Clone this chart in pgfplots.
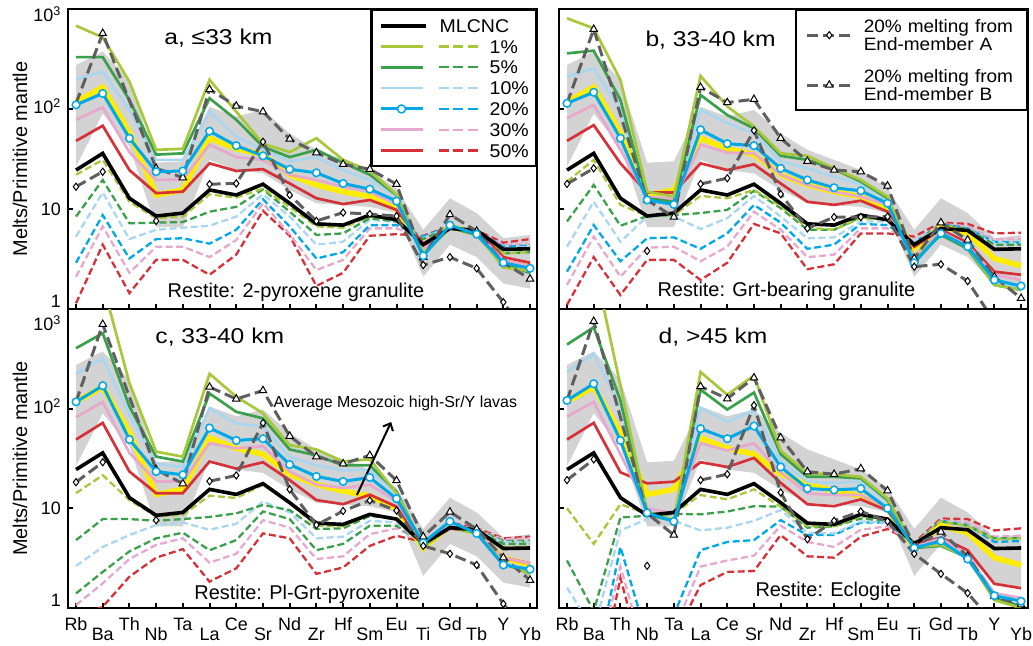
\documentclass[border=0pt]{standalone}
\usepackage{fontspec}
\setmainfont{Liberation Sans}
\newfontfamily\wideft{Liberation Sans}[FakeStretch=1.15]
\newfontfamily\midft{Liberation Sans}[FakeStretch=1.06]
\usepackage{pgfplots}
\pgfplotsset{compat=1.18}
\usepackage{pgfplotstable}
\usetikzlibrary{arrows.meta}

\definecolor{cLG}{RGB}{168,200,60}
\definecolor{cDG}{RGB}{58,160,75}
\definecolor{cLB}{RGB}{170,214,240}
\definecolor{cB}{RGB}{0,168,230}
\definecolor{cP}{RGB}{230,168,204}
\definecolor{cR}{RGB}{214,48,56}
\definecolor{cY}{RGB}{255,236,0}
\definecolor{cBand}{RGB}{211,211,211}
\definecolor{cAB}{RGB}{95,95,95}

% range of the lavas: upper bound (x = 0..17) then lower bound (x = 17..0)
\pgfplotstableread{
x y
0 275
1 375
2 195
3 29
4 30
5 105
6 84
7 98
8 57
9 39
10 31
11 24.5
12 16
13 6.2
14 12.8
15 9.1
16 5.1
17 5.5
17 1.6
16 1.8
15 3.3
14 4.4
13 2.1
12 9.1
11 10.5
10 10.9
9 11.4
8 15.5
7 22.7
6 24.5
5 31
4 6.6
3 6.6
2 42
1 90
0 26.5
}\band

\pgfplotstableread{
x yel blk
0 118 24.5
1 165 36
2 58 12.8
3 13.8 8.5
4 15.5 9.1
5 51 15.5
6 40 13.8
7 35 17.7
8 22 11.4
9 17.4 7.1
10 14.9 6.9
11 13.3 8.7
12 10 7.8
13 4.0 4.4
14 6.7 6.4
15 5.7 6.1
16 3.2 3.95
17 2.7 4.0
}\shared

\pgfplotstableread{
x lgS dgS lbS bS pS rS lgD dgD lbD bD pD rD A B
0 680 330 198 110 78 48 22 8.4 5.3 2.9 2.1 1.14 16.7 114
1 520 330 236 143 104 68 31 19.5 14.6 8.7 6.7 4.4 23.6 571
2 188 123 98 51 37 24.5 11.8 7.2 5.0 3.2 2.3 1.44 nan 200
3 39 35 31 23.6 19.5 14.4 8.1 7.3 6.2 5.0 4.2 3.1 7.6 25.5
4 40 36 31 24 19.8 14.9 8.4 7.4 6.5 5.1 4.2 3.1 nan 20.6
5 196 128 94 60 44 28.6 14 9.4 6.8 4.5 3.3 2.2 17.7 157
6 94 78 53 43 33 24 13 10.5 8.4 6.2 4.9 3.5 18 107
7 45 42 39 34 31 25 16 15.7 14.0 12.5 11.4 9.6 47 94
8 37 33 30 25 22 18 10.5 9.4 8.4 6.7 5.6 5.4 13.8 50
9 51 39 33 23 19.5 12.8 6.7 5.5 4.4 3.2 2.45 1.7 7.6 36.6
10 31 29 24.5 18 16.7 11.2 6.5 5.7 4.7 3.7 3.1 2.3 9.2 28
11 24 22 19.5 15.8 14.9 12.3 8.4 8.1 7.8 6.9 6.4 5.4 8.9 25
12 14 13.8 13.3 12 11.2 9.8 7.8 7.5 7.4 6.9 6.4 5.6 8.5 17.7
13 3.6 3.5 3.6 3.4 4.0 4.5 4.2 5.0 5.1 5.3 5.2 5.4 2.75 3.3
14 6.7 6.5 6.7 6.9 6.7 6.5 6.5 6.5 6.7 6.7 6.5 6.7 3.3 8.8
15 5.7 5.5 5.6 5.6 5.8 6.1 5.9 5.9 6.0 6.0 6.0 6.1 2.55 6.0
16 2.6 2.8 2.9 2.9 3.1 3.3 3.6 3.6 4.0 4.2 4.4 4.6 1.17 2.9
17 2.4 2.3 2.4 2.55 2.7 2.9 3.7 3.7 4.2 4.3 4.5 5.0 0.5 2.0
}\tabA

\pgfplotstableread{
x lgS dgS lbS bS pS rS lgD dgD lbD bD pD rD A B
0 807 360 210 114 81 48 18.8 7.5 4.2 2.36 1.74 1.1 17.8 114
1 641 383 255 147 110 69 31 17.4 11.8 6.9 5.3 3.3 25.5 627
2 195 123 98 51 39 28.6 11 6.8 4.7 3.0 2.1 1.38 nan 200
3 14.9 12.8 12.5 12.3 13.3 14.6 8.5 8.5 8.4 5.1 4.1 3.1 3.8 12.3
4 13.3 11.8 11.4 11.1 12.5 14.6 8.7 8.7 8.4 5.2 4.2 3.1 nan 8.3
5 214 138 98 62 44 28.6 13.5 9.1 6.3 4.0 3.0 1.95 17.8 165
6 106 87 72 45 36.6 24.5 12.8 9.8 8.1 5.7 4.2 2.9 20.3 116
7 67 64 57 43 36 28 15.5 15.2 13.5 11 9.4 7.1 61 125
8 36 34 30 25.5 22 18 10.7 10.2 8.4 7.3 6.2 5.7 14.1 51
9 34 31 25.5 19.5 17.4 11.8 6.5 6.2 5.1 4.0 3.3 2.5 6.4 30
10 25.5 25 21 16.3 14.9 11 6.2 6.2 5.2 4.4 3.5 2.8 8.3 24.5
11 19.5 18.8 17.7 15.2 13.3 12.1 8.1 8.3 7.5 7.1 6.4 5.7 8.3 23.6
12 13.3 12.8 12.5 11.4 11 9.4 7.8 7.8 7.5 6.9 6.4 5.7 8.4 17
13 3.1 3.1 3.1 2.9 3.4 4.2 4.3 4.4 4.7 4.6 4.7 5.3 2.65 3.2
14 5.7 5.5 5.8 5.7 5.9 6.2 6.7 6.9 6.9 7.1 7.1 7.3 2.8 7.3
15 4.2 4.0 4.2 4.2 4.3 4.6 6.1 6.3 6.3 6.4 6.7 7.1 1.9 4.9
16 1.74 1.74 1.87 1.95 2.2 2.36 4.0 4.4 4.6 4.7 5.0 5.7 0.75 2.1
17 1.55 1.55 1.64 1.7 1.95 2.2 4.0 4.4 4.5 4.6 5.0 5.8 0.4 1.28
}\tabB

\pgfplotstableread{
x lgS dgS lbS bS pS rS lgD dgD lbD bD pD rD A B
0 1500 404 224 117 82 49 14.2 4.8 2.64 1.4 1.07 0.79 18.3 117
1 1800 571 321 170 117 72 21.5 7.8 4.1 2.3 1.77 1.03 29 703
2 181 105 86 49 36 23.4 12.1 7.8 5.4 3.7 3.1 2.06 nan 200
3 37 33 28 23.4 18.6 14.2 8.3 7.5 6.8 5.0 4.3 3.2 7.6 24.5
4 33 29.5 26 21.7 18.6 14.2 8.6 7.8 7.2 5.7 5.0 3.9 nan 17.7
5 224 142 101 64 45 29.5 13.4 8.2 6.1 3.8 2.85 1.84 18.7 165
6 132 93 71 48 40 25 12.7 8.9 7.0 4.8 3.5 2.5 21.4 125
7 90 80 66 50 42 29 17.3 10.8 11.7 9.3 7.6 5.6 72 152
8 43 39 33 27.5 23.4 19.2 11.2 9.6 9.1 7.8 6.4 5.0 15.5 53
9 39 34 27 20.9 17.3 12.1 6.7 6.2 5.0 3.8 3.1 2.2 6.8 33
10 29.5 27 24 18.6 16 11 6.6 6.3 5.2 4.4 3.3 2.55 9.4 28
11 31 27 24.5 20.4 17.3 13.7 8.6 8.4 7.5 6.7 5.5 4.2 12 34
12 14.2 14.7 13.7 12.5 11.7 10.4 7.9 7.8 7.2 6.7 6.3 5.3 9.5 19
13 4.1 4.1 4.1 4.5 4.5 4.3 4.1 4.2 4.3 4.5 4.6 4.6 4.2 5.2
14 6.6 6.5 6.6 7.4 6.9 6.3 6.3 6.7 6.7 6.9 7.1 7.2 3.5 9.2
15 5.6 5.6 5.6 5.6 5.8 5.8 5.6 5.9 5.9 6.1 6.1 6.3 2.7 6.2
16 2.8 2.8 2.9 2.7 3.2 3.2 4.1 4.4 4.6 4.7 4.9 5.0 1.1 3.2
17 2.2 2.2 2.35 2.45 2.8 2.8 4.1 4.4 4.6 4.7 5.0 5.2 0.5 1.9
}\tabC

\pgfplotstableread{
x lgS dgS lbS bS pS rS lgD dgD lbD bD pD rD A B
0 2500 440 233 121 83 49 10 3.0 1.6 0.3 0.2 0.1 19.2 121
1 3000 656 355 178 117 72 4.4 0.93 0.6 0.2 0.2 0.1 31 753
2 170 121 104 48 35 23 11 8.1 6.0 4.1 2.6 2.0 nan 200
3 9.3 8.6 8.9 9.0 10 17.8 8.8 8.4 7.8 0.5 0.3 0.2 2.65 8.9
4 7.6 7.5 7.5 7.4 8.9 18.5 8.9 8.8 7.5 0.85 0.6 0.5 nan 5.4
5 233 155 102 63 45 29 13.6 8.7 6.0 3.8 2.6 1.7 19.2 167
6 138 98 74 50 38 26 12.3 9.3 6.4 4.6 3.0 2.3 22 126
7 215 145 96 67 45 32 15.5 10.5 7.5 4.8 3.35 2.35 108 204
8 38 35 30 26 23 18 10.4 10.4 9.6 7.6 6.7 5.4 14.4 51
9 22.4 20.7 18.5 15.8 14.1 11 6.6 6.4 5.7 5.4 4.6 3.3 4.9 23.3
10 22 20.7 18 15.3 13.6 10.5 6.6 6.6 5.6 5.4 4.1 3.2 7.5 22
11 20.7 20 18.5 15.8 13.6 12.3 8.3 7.9 7.4 7.2 6.1 5.2 9.3 25
12 12.6 12.1 11.7 10 10.2 9.5 7.8 7.5 7.2 7.2 6.6 6.2 7.4 15
13 4.1 4.0 4.0 4.0 4.1 4.3 4.2 4.2 4.3 4.3 4.3 4.5 3.5 4.2
14 4.3 4.2 4.5 4.7 5.0 5.1 7.4 7.4 7.5 7.5 7.6 7.9 2.2 5.8
15 3.2 3.2 3.3 3.1 3.4 3.8 6.6 6.7 6.8 6.8 7.2 7.8 1.41 3.3
16 1.2 1.25 1.36 1.33 1.41 1.75 4.9 5.0 5.0 4.6 5.2 6.0 0.7 1.31
17 1.0 1.05 1.17 1.17 1.26 1.58 5.0 5.0 5.0 4.7 5.3 6.3 0.4 1.08
}\tabD

\newcommand{\lup}[1]{\raisebox{-22bp}[0pt][0pt]{#1}}
\newcommand{\ldn}[1]{\raisebox{-32bp}[0pt][0pt]{#1}}

\pgfplotsset{
  dsh/.style={line width=2.3bp, dash pattern=on 7bp off 3.5bp, forget plot},
  sol/.style={line width=2.7bp, forget plot},
  abline/.style={color=cAB, line width=3bp, dash pattern=on 11bp off 5bp, forget plot},
}

% #1 = table of the panel, #2 = colour of the 20% dashed curve
\newcommand{\panelplots}[2]{%
  \addplot[fill=cBand, draw=none, forget plot] table[x=x,y=y]{\band};
  \addplot[dsh, cR] table[x=x,y=rD]{#1};
  \addplot[dsh, cP] table[x=x,y=pD]{#1};
  \addplot[dsh, #2] table[x=x,y=bD]{#1};
  \addplot[dsh, cLB] table[x=x,y=lbD]{#1};
  \addplot[dsh, cDG] table[x=x,y=dgD]{#1};
  \addplot[dsh, cLG] table[x=x,y=lgD]{#1};
  \addplot[cY, line width=5.5bp, forget plot] table[x=x,y=yel]{\shared};
  \addplot[sol, cR] table[x=x,y=rS]{#1};
  \addplot[sol, cP] table[x=x,y=pS]{#1};
  \addplot[sol, cLB] table[x=x,y=lbS]{#1};
  \addplot[sol, cDG] table[x=x,y=dgS]{#1};
  \addplot[sol, cLG] table[x=x,y=lgS]{#1};
  \addplot[black, line width=3.6bp, forget plot] table[x=x,y=blk]{\shared};
  \addplot[abline, skip coords between index={2}{3}, mark=triangle*, mark indices={2,3,4,5,6,7,8,9,10,11,12,13,14,15,16,17,18}, mark size=4.3bp, mark options={solid, fill=white, draw=black, line width=1bp}] table[x=x,y=B]{#1};
  \addplot[cB, line width=3bp, mark=*, mark size=3.8bp, mark options={fill=white, draw=cB, line width=1.5bp}, forget plot] table[x=x,y=bS]{#1};
  \addplot[abline, mark=diamond*, mark size=3.6bp, mark options={solid, fill=white, draw=black, line width=1bp}] table[x=x,y=A]{#1};
}

\begin{document}
\begin{tikzpicture}
\path[use as bounding box] (0,0) rectangle (1033bp,646bp);

\begin{axis}[scale only axis, width=469bp, height=300bp, at={(68bp,337bp)}, anchor=south west,
    ymode=log, ymin=1, ymax=1000, xmin=-0.3, xmax=17.26,
    xtick={0,...,17}, ytick={1,10,100,1000}, yminorticks=false,
    tick align=inside, xtick pos=left, ytick pos=left, major tick length=5bp,
    axis line style={line width=2.5bp}, major tick style={black, line width=2bp},
    tick label style={font=\fontsize{18}{18}\selectfont},
    xticklabels={},
    yticklabel style={anchor=east, inner sep=0pt, xshift=-7bp},
    ylabel style={at={(axis description cs:-0.1023,0.5)}, anchor=center, font=\fontsize{20}{20}\selectfont},
    unbounded coords=jump,
  yticklabels={\raisebox{1.4bp}[0pt][0pt]{1},\raisebox{-6.5bp}[0pt][0pt]{10},\raisebox{-5bp}[0pt][0pt]{10\textsuperscript{2}},\raisebox{-12.6bp}[0pt][0pt]{10\textsuperscript{3}}},
  ylabel={Melts/Primitive mantle},
  legend style={at={(rel axis cs:1,1)}, anchor=north east, draw=black, line width=2.5bp, fill=white,
    inner xsep=7bp, inner ysep=9bp, row sep=7.8bp, column sep=11bp,
    font=\midft\fontsize{18.5}{18.5}\selectfont, cells={anchor=west},
    nodes={inner sep=0pt, text height=13bp, text depth=0bp}},
  ]
  \panelplots{\tabA}{cB}
  \node[anchor=base west, font=\wideft\fontsize{21.5}{22}\selectfont] at (rel axis cs:0.198,0.88) {a, ≤33 km};
  \node[anchor=base west, font=\fontsize{20}{20}\selectfont] at (rel axis cs:0.205,0.037) {Restite: 2-pyroxene granulite};
  \addlegendimage{legend image code/.code={\draw[black,line width=3.6bp] (0bp,0bp) -- (45bp,0bp);}}
  \addlegendentry{\hspace*{-50bp}MLCNC}
  \addlegendimage{legend image code/.code={\draw[cLG,line width=2.7bp] (0bp,0bp) -- (42bp,0bp); \draw[cLG,line width=2.3bp,dash pattern=on 10bp off 4.5bp] (58bp,0bp) -- (97bp,0bp);}}
  \addlegendentry{1\%}
  \addlegendimage{legend image code/.code={\draw[cDG,line width=2.7bp] (0bp,0bp) -- (42bp,0bp); \draw[cDG,line width=2.3bp,dash pattern=on 10bp off 4.5bp] (58bp,0bp) -- (97bp,0bp);}}
  \addlegendentry{5\%}
  \addlegendimage{legend image code/.code={\draw[cLB,line width=2.7bp] (0bp,0bp) -- (42bp,0bp); \draw[cLB,line width=2.3bp,dash pattern=on 10bp off 4.5bp] (58bp,0bp) -- (97bp,0bp);}}
  \addlegendentry{10\%}
  \addlegendimage{legend image code/.code={\draw[cB,line width=3bp] (0bp,0bp) -- (42bp,0bp); \draw[cB,fill=white,line width=1.5bp] (21bp,0bp) circle (4bp); \draw[cB,line width=2.3bp,dash pattern=on 10bp off 4.5bp] (58bp,0bp) -- (97bp,0bp);}}
  \addlegendentry{20\%}
  \addlegendimage{legend image code/.code={\draw[cP,line width=2.7bp] (0bp,0bp) -- (42bp,0bp); \draw[cP,line width=2.3bp,dash pattern=on 10bp off 4.5bp] (58bp,0bp) -- (97bp,0bp);}}
  \addlegendentry{30\%}
  \addlegendimage{legend image code/.code={\draw[cR,line width=2.7bp] (0bp,0bp) -- (42bp,0bp); \draw[cR,line width=2.3bp,dash pattern=on 10bp off 4.5bp] (58bp,0bp) -- (97bp,0bp);}}
  \addlegendentry{50\%}
\end{axis}

\begin{axis}[scale only axis, width=469bp, height=300bp, at={(559bp,337bp)}, anchor=south west,
    ymode=log, ymin=1, ymax=1000, xmin=-0.3, xmax=17.26,
    xtick={0,...,17}, ytick={1,10,100,1000}, yminorticks=false,
    tick align=inside, xtick pos=left, ytick pos=left, major tick length=5bp,
    axis line style={line width=2.5bp}, major tick style={black, line width=2bp},
    xticklabels={}, yticklabels={},
    unbounded coords=jump,
  legend style={at={(rel axis cs:1,1)}, anchor=north east, draw=black, line width=2.5bp, fill=white,
    inner xsep=10bp, inner ysep=9bp, row sep=18bp, column sep=10bp,
    font=\midft\fontsize{18}{18.8}\selectfont, cells={anchor=west},
    nodes={inner sep=0pt, text width=153bp, align=left, text depth=, text height=}},
  legend image code/.code={\draw[mark repeat=2,mark phase=2,#1] plot coordinates {(0bp,0bp) (22bp,0bp) (45bp,0bp)};},
  ]
  \panelplots{\tabB}{cB}
  \node[anchor=base west, font=\wideft\fontsize{21.5}{22}\selectfont] at (rel axis cs:0.177,0.874) {b, 33-40 km};
  \node[anchor=base west, font=\fontsize{20}{20}\selectfont] at (rel axis cs:0.2026,0.04) {Restite: Grt-bearing granulite};
  \addlegendimage{color=cAB, line width=3bp, dash pattern=on 11bp off 5bp, mark=diamond*, mark size=3.6bp, mark options={solid, fill=white, draw=black, line width=1bp}}
  \addlegendentry{20\% melting from\\End-member A}
  \addlegendimage{color=cAB, line width=3bp, dash pattern=on 11bp off 5bp, mark=triangle*, mark size=4.3bp, mark options={solid, fill=white, draw=black, line width=1bp}}
  \addlegendentry{20\% melting from\\End-member B}
\end{axis}

\begin{axis}[scale only axis, width=469bp, height=299bp, at={(68bp,38bp)}, anchor=south west,
    ymode=log, ymin=1, ymax=1000, xmin=-0.3, xmax=17.26,
    xtick={0,...,17}, ytick={1,10,100,1000}, yminorticks=false,
    tick align=inside, xtick pos=left, ytick pos=left, major tick length=5bp,
    axis line style={line width=2.5bp}, major tick style={black, line width=2bp},
    tick label style={font=\fontsize{18}{18}\selectfont},
    xticklabel style={anchor=north, inner sep=0pt},
    yticklabel style={anchor=east, inner sep=0pt, xshift=-7bp},
    ylabel style={at={(axis description cs:-0.1023,0.5)}, anchor=center, font=\fontsize{20}{20}\selectfont},
    unbounded coords=jump,
    xticklabels={\lup{Rb},\ldn{Ba},\lup{Th},\ldn{Nb},\lup{Ta},\ldn{La},\lup{Ce},\ldn{Sr},\lup{Nd},\ldn{Zr},\lup{Hf},\ldn{Sm},\lup{Eu},\ldn{Ti},\lup{Gd},\ldn{Tb},\lup{Y},\ldn{Yb}},
  yticklabels={\raisebox{1.4bp}[0pt][0pt]{1},\raisebox{-6.5bp}[0pt][0pt]{10},\raisebox{-5bp}[0pt][0pt]{10\textsuperscript{2}},\raisebox{-21.6bp}[0pt][0pt]{10\textsuperscript{3}}},
  ylabel={Melts/Primitive mantle},
  ]
  \panelplots{\tabC}{cDG}
  \node[anchor=base west, font=\wideft\fontsize{21.5}{22}\selectfont] at (rel axis cs:0.179,0.886) {c, 33-40 km};
  \node[anchor=base west, font=\fontsize{20}{20}\selectfont] at (rel axis cs:0.262,0.027) {Restite: Pl-Grt-pyroxenite};
  \node[anchor=base west, font=\fontsize{16}{16}\selectfont] at (rel axis cs:0.431,0.672) {Average Mesozoic high-Sr/Y lavas};
  \draw[-{Straight Barb[length=6bp,width=11bp]}, line width=2bp] (rel axis cs:0.616,0.378) -- (rel axis cs:0.689,0.622);
\end{axis}

\begin{axis}[scale only axis, width=469bp, height=299bp, at={(559bp,38bp)}, anchor=south west,
    ymode=log, ymin=1, ymax=1000, xmin=-0.3, xmax=17.26,
    xtick={0,...,17}, ytick={1,10,100,1000}, yminorticks=false,
    tick align=inside, xtick pos=left, ytick pos=left, major tick length=5bp,
    axis line style={line width=2.5bp}, major tick style={black, line width=2bp},
    tick label style={font=\fontsize{18}{18}\selectfont},
    xticklabel style={anchor=north, inner sep=0pt},
    unbounded coords=jump,
    xticklabels={\lup{Rb},\ldn{Ba},\lup{Th},\ldn{Nb},\lup{Ta},\ldn{La},\lup{Ce},\ldn{Sr},\lup{Nd},\ldn{Zr},\lup{Hf},\ldn{Sm},\lup{Eu},\ldn{Ti},\lup{Gd},\ldn{Tb},\lup{Y},\ldn{Yb}},
    yticklabels={},
  ]
  \panelplots{\tabD}{cB}
  \node[anchor=base west, font=\wideft\fontsize{21.5}{22}\selectfont] at (rel axis cs:0.205,0.886) {d, >45 km};
  \node[anchor=base west, font=\fontsize{20}{20}\selectfont] at (rel axis cs:0.4115,0.037) {Restite: Eclogite};
\end{axis}
\end{tikzpicture}
\end{document}
